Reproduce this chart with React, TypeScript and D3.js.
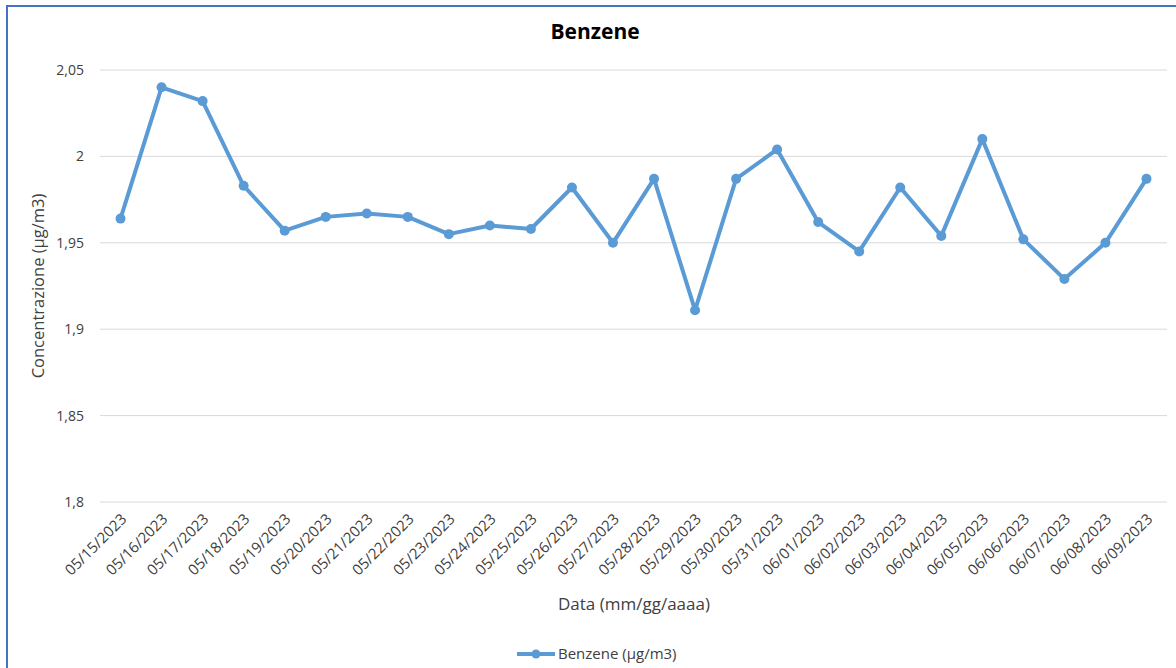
import * as d3 from "d3";
import React from "react";

// dati
const dates = [
  "05/15/2023", "05/16/2023", "05/17/2023", "05/18/2023", "05/19/2023",
  "05/20/2023", "05/21/2023", "05/22/2023", "05/23/2023", "05/24/2023",
  "05/25/2023", "05/26/2023", "05/27/2023", "05/28/2023", "05/29/2023",
  "05/30/2023", "05/31/2023", "06/01/2023", "06/02/2023", "06/03/2023",
  "06/04/2023", "06/05/2023", "06/06/2023", "06/07/2023", "06/08/2023",
  "06/09/2023",
];
const benzene = [
  1.964, 2.04, 2.032, 1.983, 1.957, 1.965, 1.967, 1.965, 1.955, 1.96,
  1.958, 1.982, 1.95, 1.987, 1.911, 1.987, 2.004, 1.962, 1.945, 1.982,
  1.954, 2.01, 1.952, 1.929, 1.95, 1.987,
];
const yTicks = [1.8, 1.85, 1.9, 1.95, 2, 2.05];

const W = 1176;
const H = 668;
const left = 100;
const right = 1167;
const top = 70;
const bottom = 502;
const FONT = "'Open Sans', 'Noto Sans', sans-serif";
const BLUE = "#5b9bd5";

const fmt = (v: number) => String(+v.toFixed(2)).replace(".", ",");

export default function App() {
  const x = d3.scaleBand<string>().domain(dates).range([left, right]);
  const y = d3.scaleLinear().domain([1.8, 2.05]).range([bottom, top]);
  const cx = (d: string) => (x(d) as number) + x.bandwidth() / 2;

  const line = d3
    .line<number>()
    .x((_, i) => cx(dates[i]))
    .y((d) => y(d));

  return (
    <svg
      width={W}
      height={H}
      style={{ position: "absolute", left: 0, top: 0, background: "#fff" }}
      fontFamily={FONT}
    >
      <rect x={7} y={6} width={W + 10} height={H + 10} fill="#fff" stroke="#4472c4" strokeWidth={2} />
      <text x={595} y={39} textAnchor="middle" fontSize={21} fontWeight="bold" fill="#000">
        Benzene
      </text>
      {/* griglia */}
      <g>
        {yTicks.map((t) => (
          <g key={t}>
            <line x1={left} x2={right} y1={y(t)} y2={y(t)} stroke="#d9d9d9" strokeWidth={1} />
            <text x={84} y={y(t)} dy="0.35em" textAnchor="end" fontSize={14} fill="#404040">
              {fmt(t)}
            </text>
          </g>
        ))}
      </g>
      {/* etichette asse x */}
      <g>
        {dates.map((d) => (
          <text
            key={d}
            transform={`translate(${cx(d) + 7},${bottom + 18}) rotate(-45)`}
            textAnchor="end"
            fontSize={15}
            fill="#404040"
          >
            {d}
          </text>
        ))}
      </g>
      <text
        transform={`translate(44,${(top + bottom) / 2}) rotate(-90)`}
        textAnchor="middle"
        fontSize={16.5}
        fill="#404040"
      >
        Concentrazione (µg/m3)
      </text>
      <text x={634} y={610} textAnchor="middle" fontSize={17} fill="#404040">
        Data (mm/gg/aaaa)
      </text>
      {/* serie */}
      <path d={line(benzene) || ""} fill="none" stroke={BLUE} strokeWidth={4} strokeLinejoin="round" />
      {benzene.map((v, i) => (
        <circle key={i} cx={cx(dates[i])} cy={y(v)} r={5} fill={BLUE} />
      ))}
      {/* legenda */}
      <line x1={517} x2={555} y1={654} y2={654} stroke={BLUE} strokeWidth={4} />
      <circle cx={536} cy={654} r={4.5} fill={BLUE} />
      <text x={558} y={654} dy="0.35em" fontSize={15} fill="#404040">
        Benzene (µg/m3)
      </text>
    </svg>
  );
}
